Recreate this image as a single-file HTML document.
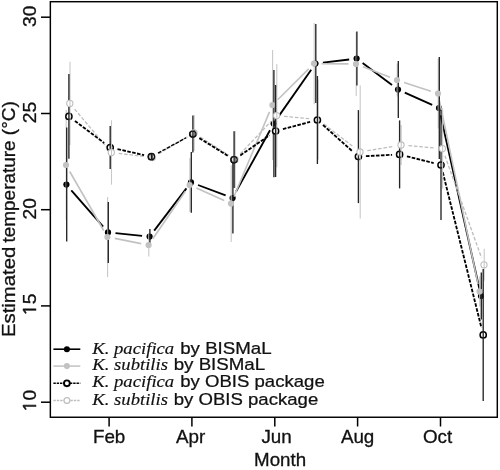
<!DOCTYPE html>
<html><head><meta charset="utf-8"><title>Estimated temperature</title>
<style>
html,body{margin:0;padding:0;background:#fff;}
svg{display:block}
.s{font-family:"Liberation Sans",sans-serif;font-size:18px;fill:#111;stroke:#111;stroke-width:0.3px}
.one{font-family:"NanumGothic","Liberation Sans",sans-serif;font-size:18.6px;stroke-width:0.55px}
.l{font-family:"Liberation Sans",sans-serif;font-size:16.8px;fill:#111;stroke:#111;stroke-width:0.25px}
.it{font-family:"Liberation Serif",serif;font-style:italic;font-size:16.8px;stroke-width:0.15px}
</style></head><body>
<svg width="500" height="470" viewBox="0 0 500 470">
<rect width="500" height="470" fill="#fff"/>
<line x1="71.3" y1="190.3" x2="103.1" y2="226.7" stroke="#000" stroke-width="1.85"/>
<line x1="115.5" y1="233.2" x2="142.1" y2="235.8" stroke="#000" stroke-width="1.85"/>
<line x1="154.2" y1="230.6" x2="186.4" y2="188.4" stroke="#000" stroke-width="1.85"/>
<line x1="198.0" y1="185.0" x2="225.6" y2="195.4" stroke="#000" stroke-width="1.85"/>
<line x1="236.2" y1="191.4" x2="270.0" y2="130.2" stroke="#000" stroke-width="1.85"/>
<line x1="277.9" y1="117.4" x2="311.2" y2="69.7" stroke="#000" stroke-width="1.85"/>
<line x1="322.9" y1="62.6" x2="349.2" y2="59.5" stroke="#000" stroke-width="1.85"/>
<line x1="362.6" y1="63.1" x2="392.0" y2="85.1" stroke="#000" stroke-width="1.85"/>
<line x1="404.8" y1="92.7" x2="432.2" y2="104.9" stroke="#000" stroke-width="1.85"/>
<line x1="440.6" y1="115.3" x2="479.4" y2="288.7" stroke="#000" stroke-width="1.85"/>
<circle cx="66.4" cy="184.6" r="3.1" fill="#000"/>
<circle cx="108.0" cy="232.4" r="3.1" fill="#000"/>
<circle cx="149.6" cy="236.6" r="3.1" fill="#000"/>
<circle cx="191.0" cy="182.4" r="3.1" fill="#000"/>
<circle cx="232.6" cy="198.0" r="3.1" fill="#000"/>
<circle cx="273.6" cy="123.6" r="3.1" fill="#000"/>
<circle cx="315.5" cy="63.5" r="3.1" fill="#000"/>
<circle cx="356.6" cy="58.6" r="3.1" fill="#000"/>
<circle cx="398.0" cy="89.6" r="3.1" fill="#000"/>
<circle cx="439.0" cy="108.0" r="3.1" fill="#000"/>
<circle cx="481.0" cy="296.0" r="3.1" fill="#000"/>
<line x1="69.7" y1="171.5" x2="103.7" y2="230.5" stroke="#c2c2c2" stroke-width="1.6"/>
<line x1="114.8" y1="238.4" x2="141.2" y2="243.6" stroke="#c2c2c2" stroke-width="1.6"/>
<line x1="152.8" y1="238.8" x2="185.4" y2="191.2" stroke="#c2c2c2" stroke-width="1.6"/>
<line x1="196.4" y1="188.1" x2="224.2" y2="200.5" stroke="#c2c2c2" stroke-width="1.6"/>
<line x1="233.9" y1="196.7" x2="269.5" y2="111.9" stroke="#c2c2c2" stroke-width="1.6"/>
<line x1="277.7" y1="99.7" x2="308.7" y2="68.9" stroke="#c2c2c2" stroke-width="1.6"/>
<line x1="321.5" y1="63.7" x2="348.5" y2="63.9" stroke="#c2c2c2" stroke-width="1.6"/>
<line x1="363.0" y1="66.7" x2="390.0" y2="77.3" stroke="#c2c2c2" stroke-width="1.6"/>
<line x1="404.1" y1="82.4" x2="430.9" y2="91.2" stroke="#c2c2c2" stroke-width="1.6"/>
<line x1="439.5" y1="100.9" x2="478.0" y2="284.2" stroke="#c2c2c2" stroke-width="1.6"/>
<line x1="66.2" y1="110.0" x2="66.2" y2="220.0" stroke="#c8c8c8" stroke-width="1.1"/>
<line x1="107.6" y1="197.0" x2="107.6" y2="277.0" stroke="#c8c8c8" stroke-width="1.1"/>
<line x1="148.8" y1="233.5" x2="148.8" y2="256.5" stroke="#c8c8c8" stroke-width="1.1"/>
<line x1="189.8" y1="158.0" x2="189.8" y2="212.0" stroke="#c8c8c8" stroke-width="1.1"/>
<line x1="231.2" y1="165.2" x2="231.2" y2="242.0" stroke="#c8c8c8" stroke-width="1.1"/>
<line x1="272.6" y1="50.0" x2="272.6" y2="160.0" stroke="#c8c8c8" stroke-width="1.1"/>
<line x1="314.2" y1="23.0" x2="314.2" y2="104.2" stroke="#c8c8c8" stroke-width="1.1"/>
<line x1="356.2" y1="32.0" x2="356.2" y2="96.0" stroke="#c8c8c8" stroke-width="1.1"/>
<line x1="397.2" y1="63.5" x2="397.2" y2="96.5" stroke="#c8c8c8" stroke-width="1.1"/>
<line x1="438.2" y1="58.6" x2="438.2" y2="128.6" stroke="#c8c8c8" stroke-width="1.1"/>
<line x1="479.7" y1="276.5" x2="479.7" y2="306.5" stroke="#c8c8c8" stroke-width="1.1"/>
<line x1="66.7" y1="127.6" x2="66.7" y2="241.6" stroke="#242424" stroke-width="1.35"/>
<line x1="108.3" y1="201.9" x2="108.3" y2="262.9" stroke="#242424" stroke-width="1.35"/>
<line x1="149.9" y1="229.1" x2="149.9" y2="244.1" stroke="#242424" stroke-width="1.35"/>
<line x1="191.3" y1="152.1" x2="191.3" y2="212.7" stroke="#242424" stroke-width="1.35"/>
<line x1="232.9" y1="162.5" x2="232.9" y2="233.5" stroke="#242424" stroke-width="1.35"/>
<line x1="273.9" y1="70.0" x2="273.9" y2="177.2" stroke="#242424" stroke-width="1.35"/>
<line x1="315.8" y1="24.0" x2="315.8" y2="103.0" stroke="#242424" stroke-width="1.35"/>
<line x1="356.9" y1="31.6" x2="356.9" y2="85.6" stroke="#242424" stroke-width="1.35"/>
<line x1="398.3" y1="61.1" x2="398.3" y2="118.1" stroke="#242424" stroke-width="1.35"/>
<line x1="439.3" y1="57.0" x2="439.3" y2="159.0" stroke="#242424" stroke-width="1.35"/>
<line x1="481.3" y1="272.5" x2="481.3" y2="319.5" stroke="#242424" stroke-width="1.35"/>
<circle cx="66.0" cy="165.0" r="3.1" fill="#c2c2c2"/>
<circle cx="107.4" cy="237.0" r="3.1" fill="#c2c2c2"/>
<circle cx="148.6" cy="245.0" r="3.1" fill="#c2c2c2"/>
<circle cx="189.6" cy="185.0" r="3.1" fill="#c2c2c2"/>
<circle cx="231.0" cy="203.6" r="3.1" fill="#c2c2c2"/>
<circle cx="272.4" cy="105.0" r="3.1" fill="#c2c2c2"/>
<circle cx="314.0" cy="63.6" r="3.1" fill="#c2c2c2"/>
<circle cx="356.0" cy="64.0" r="3.1" fill="#c2c2c2"/>
<circle cx="397.0" cy="80.0" r="3.1" fill="#c2c2c2"/>
<circle cx="438.0" cy="93.6" r="3.1" fill="#c2c2c2"/>
<circle cx="479.5" cy="291.5" r="3.1" fill="#c2c2c2"/>
<line x1="74.6" y1="109.1" x2="106.5" y2="146.8" stroke="#bdbdbd" stroke-width="1.3" stroke-dasharray="3.6 1.8"/>
<line x1="118.7" y1="153.4" x2="144.9" y2="156.6" stroke="#bdbdbd" stroke-width="1.3" stroke-dasharray="3.6 1.8"/>
<line x1="158.8" y1="153.7" x2="187.5" y2="136.8" stroke="#bdbdbd" stroke-width="1.3" stroke-dasharray="3.6 1.8"/>
<line x1="200.3" y1="137.1" x2="228.7" y2="155.3" stroke="#bdbdbd" stroke-width="1.3" stroke-dasharray="3.6 1.8"/>
<line x1="240.2" y1="154.0" x2="271.4" y2="121.0" stroke="#bdbdbd" stroke-width="1.3" stroke-dasharray="3.6 1.8"/>
<line x1="284.1" y1="116.3" x2="310.5" y2="118.8" stroke="#bdbdbd" stroke-width="1.3" stroke-dasharray="3.6 1.8"/>
<line x1="323.9" y1="124.1" x2="354.1" y2="147.4" stroke="#bdbdbd" stroke-width="1.3" stroke-dasharray="3.6 1.8"/>
<line x1="367.4" y1="150.7" x2="393.6" y2="146.3" stroke="#bdbdbd" stroke-width="1.3" stroke-dasharray="3.6 1.8"/>
<line x1="408.5" y1="145.6" x2="434.9" y2="148.0" stroke="#bdbdbd" stroke-width="1.3" stroke-dasharray="3.6 1.8"/>
<line x1="444.9" y1="155.7" x2="481.5" y2="257.7" stroke="#bdbdbd" stroke-width="1.3" stroke-dasharray="3.6 1.8"/>
<line x1="74.9" y1="120.9" x2="104.2" y2="143.0" stroke="#000" stroke-width="1.85" stroke-dasharray="3.6 1.4"/>
<line x1="117.5" y1="149.1" x2="144.1" y2="155.1" stroke="#000" stroke-width="1.85" stroke-dasharray="3.6 1.4"/>
<line x1="158.0" y1="153.1" x2="186.3" y2="137.7" stroke="#000" stroke-width="1.35" stroke-dasharray="3.6 1.4"/>
<line x1="199.3" y1="138.1" x2="227.7" y2="155.7" stroke="#000" stroke-width="1.85" stroke-dasharray="3.6 1.4"/>
<line x1="240.3" y1="155.4" x2="269.4" y2="135.3" stroke="#000" stroke-width="1.85" stroke-dasharray="3.6 1.4"/>
<line x1="282.9" y1="129.1" x2="310.1" y2="121.9" stroke="#000" stroke-width="1.85" stroke-dasharray="3.6 1.4"/>
<line x1="323.0" y1="125.0" x2="352.8" y2="151.6" stroke="#000" stroke-width="1.85" stroke-dasharray="3.6 1.4"/>
<line x1="365.9" y1="156.2" x2="392.1" y2="154.8" stroke="#000" stroke-width="1.85" stroke-dasharray="3.6 1.4"/>
<line x1="406.9" y1="156.3" x2="433.7" y2="163.1" stroke="#000" stroke-width="1.85" stroke-dasharray="3.6 1.4"/>
<line x1="442.8" y1="172.3" x2="481.4" y2="327.6" stroke="#000" stroke-width="1.85" stroke-dasharray="3.6 1.4"/>
<circle cx="68.9" cy="116.4" r="3.1" fill="#fff" stroke="#000" stroke-width="1.5"/>
<circle cx="110.2" cy="147.5" r="3.1" fill="#fff" stroke="#000" stroke-width="1.5"/>
<circle cx="151.4" cy="156.7" r="3.1" fill="#fff" stroke="#000" stroke-width="1.5"/>
<circle cx="192.9" cy="134.1" r="3.1" fill="#fff" stroke="#000" stroke-width="1.5"/>
<circle cx="234.1" cy="159.7" r="3.1" fill="#fff" stroke="#000" stroke-width="1.5"/>
<circle cx="275.6" cy="131.0" r="3.1" fill="#fff" stroke="#000" stroke-width="1.5"/>
<circle cx="317.4" cy="120.0" r="3.1" fill="#fff" stroke="#000" stroke-width="1.5"/>
<circle cx="358.4" cy="156.6" r="3.1" fill="#fff" stroke="#000" stroke-width="1.5"/>
<circle cx="399.6" cy="154.4" r="3.1" fill="#fff" stroke="#000" stroke-width="1.5"/>
<circle cx="441.0" cy="165.0" r="3.1" fill="#fff" stroke="#000" stroke-width="1.5"/>
<circle cx="483.2" cy="334.9" r="3.1" fill="#fff" stroke="#000" stroke-width="1.5"/>
<line x1="70.0" y1="61.8" x2="70.0" y2="145.0" stroke="#c8c8c8" stroke-width="1.1"/>
<line x1="111.5" y1="120.3" x2="111.5" y2="184.7" stroke="#c8c8c8" stroke-width="1.1"/>
<line x1="152.5" y1="154.5" x2="152.5" y2="160.5" stroke="#c8c8c8" stroke-width="1.1"/>
<line x1="194.2" y1="115.0" x2="194.2" y2="151.0" stroke="#c8c8c8" stroke-width="1.1"/>
<line x1="235.2" y1="131.0" x2="235.2" y2="187.8" stroke="#c8c8c8" stroke-width="1.1"/>
<line x1="276.8" y1="64.0" x2="276.8" y2="167.2" stroke="#c8c8c8" stroke-width="1.1"/>
<line x1="318.2" y1="79.5" x2="318.2" y2="159.5" stroke="#c8c8c8" stroke-width="1.1"/>
<line x1="360.2" y1="85.5" x2="360.2" y2="218.5" stroke="#c8c8c8" stroke-width="1.1"/>
<line x1="401.2" y1="125.0" x2="401.2" y2="165.0" stroke="#c8c8c8" stroke-width="1.1"/>
<line x1="442.6" y1="108.6" x2="442.6" y2="188.6" stroke="#c8c8c8" stroke-width="1.1"/>
<line x1="484.2" y1="248.8" x2="484.2" y2="280.8" stroke="#c8c8c8" stroke-width="1.1"/>
<line x1="68.9" y1="74.0" x2="68.9" y2="158.8" stroke="#242424" stroke-width="1.35"/>
<line x1="110.2" y1="126.0" x2="110.2" y2="169.0" stroke="#242424" stroke-width="1.35"/>
<line x1="151.4" y1="153.7" x2="151.4" y2="159.7" stroke="#242424" stroke-width="1.35"/>
<line x1="192.9" y1="115.6" x2="192.9" y2="152.6" stroke="#242424" stroke-width="1.35"/>
<line x1="234.1" y1="131.3" x2="234.1" y2="188.1" stroke="#242424" stroke-width="1.35"/>
<line x1="275.6" y1="85.0" x2="275.6" y2="177.0" stroke="#242424" stroke-width="1.35"/>
<line x1="317.4" y1="76.0" x2="317.4" y2="164.0" stroke="#242424" stroke-width="1.35"/>
<line x1="358.4" y1="110.1" x2="358.4" y2="203.1" stroke="#242424" stroke-width="1.35"/>
<line x1="399.6" y1="120.4" x2="399.6" y2="188.4" stroke="#242424" stroke-width="1.35"/>
<line x1="441.0" y1="110.0" x2="441.0" y2="220.0" stroke="#242424" stroke-width="1.35"/>
<line x1="483.2" y1="268.9" x2="483.2" y2="400.9" stroke="#242424" stroke-width="1.35"/>
<circle cx="69.8" cy="103.4" r="3.1" fill="#fff" stroke="#bdbdbd" stroke-width="1.1"/>
<line x1="70.0" y1="100.3" x2="70.0" y2="106.5" stroke="#c8c8c8" stroke-width="1.1"/>
<circle cx="111.3" cy="152.5" r="3.1" fill="#fff" stroke="#bdbdbd" stroke-width="1.1"/>
<line x1="111.5" y1="149.4" x2="111.5" y2="155.6" stroke="#c8c8c8" stroke-width="1.1"/>
<circle cx="152.3" cy="157.5" r="3.1" fill="#fff" stroke="#bdbdbd" stroke-width="1.1"/>
<line x1="152.5" y1="154.5" x2="152.5" y2="160.5" stroke="#555" stroke-width="1.1"/>
<circle cx="194.0" cy="133.0" r="3.1" fill="#fff" stroke="#bdbdbd" stroke-width="1.1"/>
<line x1="194.2" y1="129.9" x2="194.2" y2="136.1" stroke="#555" stroke-width="1.1"/>
<circle cx="235.0" cy="159.4" r="3.1" fill="#fff" stroke="#bdbdbd" stroke-width="1.1"/>
<line x1="235.2" y1="156.3" x2="235.2" y2="162.5" stroke="#555" stroke-width="1.1"/>
<circle cx="276.6" cy="115.6" r="3.1" fill="#fff" stroke="#bdbdbd" stroke-width="1.1"/>
<line x1="276.8" y1="112.5" x2="276.8" y2="118.7" stroke="#c8c8c8" stroke-width="1.1"/>
<circle cx="360.0" cy="152.0" r="3.1" fill="#fff" stroke="#bdbdbd" stroke-width="1.1"/>
<line x1="360.2" y1="148.9" x2="360.2" y2="155.1" stroke="#c8c8c8" stroke-width="1.1"/>
<circle cx="401.0" cy="145.0" r="3.1" fill="#fff" stroke="#bdbdbd" stroke-width="1.1"/>
<line x1="401.2" y1="141.9" x2="401.2" y2="148.1" stroke="#c8c8c8" stroke-width="1.1"/>
<circle cx="442.4" cy="148.6" r="3.1" fill="#fff" stroke="#bdbdbd" stroke-width="1.1"/>
<line x1="442.6" y1="145.5" x2="442.6" y2="151.7" stroke="#c8c8c8" stroke-width="1.1"/>
<circle cx="484.0" cy="264.8" r="3.1" fill="#fff" stroke="#bdbdbd" stroke-width="1.1"/>
<line x1="484.2" y1="261.7" x2="484.2" y2="267.9" stroke="#c8c8c8" stroke-width="1.1"/>
<circle cx="151.4" cy="156.7" r="3.1" fill="none" stroke="#111" stroke-width="1.25"/>
<line x1="151.4" y1="153.6" x2="151.4" y2="159.8" stroke="#1c1c1c" stroke-width="1.3"/>
<circle cx="192.9" cy="134.1" r="3.1" fill="none" stroke="#111" stroke-width="1.25"/>
<line x1="192.9" y1="131.0" x2="192.9" y2="137.2" stroke="#1c1c1c" stroke-width="1.3"/>
<circle cx="234.1" cy="159.7" r="3.1" fill="none" stroke="#111" stroke-width="1.25"/>
<line x1="234.1" y1="156.6" x2="234.1" y2="162.8" stroke="#1c1c1c" stroke-width="1.3"/>
<rect x="50.35" y="1.7" width="446.95" height="415.55" fill="none" stroke="#000" stroke-width="1.45"/>
<line x1="41" y1="402.2" x2="50.35" y2="402.2" stroke="#000" stroke-width="1.5"/>
<text transform="translate(36,401.2) rotate(-90) scale(1.07,1)" text-anchor="middle" class="s"><tspan class="one">1</tspan>0</text>
<line x1="41" y1="305.9" x2="50.35" y2="305.9" stroke="#000" stroke-width="1.5"/>
<text transform="translate(36,304.9) rotate(-90) scale(1.07,1)" text-anchor="middle" class="s"><tspan class="one">1</tspan>5</text>
<line x1="41" y1="209.7" x2="50.35" y2="209.7" stroke="#000" stroke-width="1.5"/>
<text transform="translate(36,208.7) rotate(-90) scale(1.07,1)" text-anchor="middle" class="s">20</text>
<line x1="41" y1="113.5" x2="50.35" y2="113.5" stroke="#000" stroke-width="1.5"/>
<text transform="translate(36,112.5) rotate(-90) scale(1.07,1)" text-anchor="middle" class="s">25</text>
<line x1="41" y1="17.2" x2="50.35" y2="17.2" stroke="#000" stroke-width="1.5"/>
<text transform="translate(36,16.2) rotate(-90) scale(1.07,1)" text-anchor="middle" class="s">30</text>
<line x1="109.1" y1="417.2" x2="109.1" y2="426.5" stroke="#000" stroke-width="1.5"/>
<text transform="translate(109.1,443) scale(1.045,1)" text-anchor="middle" class="s">Feb</text>
<line x1="191.9" y1="417.2" x2="191.9" y2="426.5" stroke="#000" stroke-width="1.5"/>
<text transform="translate(190.6,443) scale(1.045,1)" text-anchor="middle" class="s">Apr</text>
<line x1="274.8" y1="417.2" x2="274.8" y2="426.5" stroke="#000" stroke-width="1.5"/>
<text transform="translate(276.6,443) scale(1.045,1)" text-anchor="middle" class="s">Jun</text>
<line x1="357.6" y1="417.2" x2="357.6" y2="426.5" stroke="#000" stroke-width="1.5"/>
<text transform="translate(357.6,443) scale(1.045,1)" text-anchor="middle" class="s">Aug</text>
<line x1="440.5" y1="417.2" x2="440.5" y2="426.5" stroke="#000" stroke-width="1.5"/>
<text transform="translate(437.5,443) scale(1.045,1)" text-anchor="middle" class="s">Oct</text>
<text transform="translate(280.1,466) scale(1.04,1)" text-anchor="middle" class="s">Month</text>
<text transform="translate(14.9,337.0) rotate(-90) scale(1.13,1)" text-anchor="start" class="s">Estimated</text>
<text transform="translate(14.9,101.3) rotate(-90) scale(1.052,1)" text-anchor="end" class="s">temperature (°C)</text>
<line x1="53.4" y1="349.2" x2="80.3" y2="349.2" stroke="#000" stroke-width="1.6"/>
<circle cx="66.9" cy="349.2" r="3.05" fill="#000"/>
<text transform="translate(92.2,353.7) scale(1.113,1)" class="l it">K. pacifica</text>
<text transform="translate(180.2,353.7) scale(1.114,1)" class="l">by BISMaL</text>
<line x1="53.4" y1="366.1" x2="80.3" y2="366.1" stroke="#c2c2c2" stroke-width="1.5"/>
<circle cx="66.9" cy="366.1" r="3.05" fill="#c2c2c2"/>
<text transform="translate(92.2,370.3) scale(1.113,1)" class="l it">K. subtilis</text>
<text transform="translate(173.7,370.3) scale(1.114,1)" class="l">by BISMaL</text>
<line x1="53.4" y1="383.3" x2="80.3" y2="383.3" stroke="#000" stroke-width="1.6" stroke-dasharray="2.4 0.9"/>
<circle cx="66.9" cy="383.3" r="2.9" fill="#fff" stroke="#000" stroke-width="1.9"/>
<text transform="translate(92.2,387.4) scale(1.113,1)" class="l it">K. pacifica</text>
<text transform="translate(180.2,387.4) scale(1.106,1)" class="l">by OBIS package</text>
<line x1="53.4" y1="400.5" x2="80.3" y2="400.5" stroke="#bdbdbd" stroke-width="1.3" stroke-dasharray="2.4 1.0"/>
<circle cx="66.9" cy="400.5" r="2.9" fill="#fff" stroke="#bdbdbd" stroke-width="1.2"/>
<text transform="translate(92.2,404.7) scale(1.113,1)" class="l it">K. subtilis</text>
<text transform="translate(173.7,404.7) scale(1.106,1)" class="l">by OBIS package</text>
</svg>
</body></html>
